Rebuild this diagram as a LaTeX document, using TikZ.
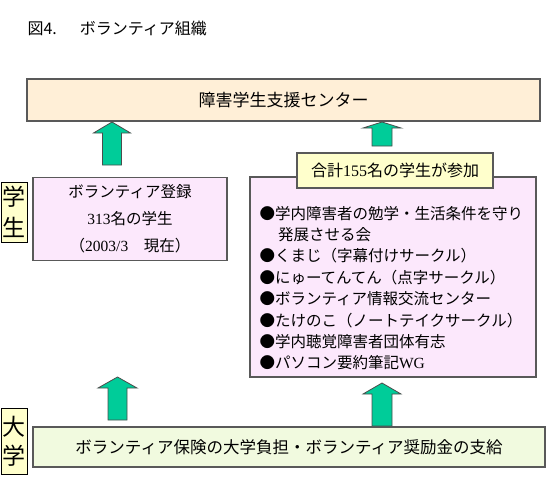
\documentclass[tikz,border=0pt]{standalone}
\usepackage{fontspec}
\setmainfont{Noto Sans CJK JP}
\newfontfamily\tnr{Liberation Serif}
\usepackage{xcolor}
\usepackage{tikz}
\definecolor{centrefill}{HTML}{FFEFD7}
\definecolor{groupfill}{HTML}{FCE8FC}
\definecolor{tagfill}{HTML}{FFFFCC}
\definecolor{unifill}{HTML}{F1FADF}
\definecolor{arrowgreen}{HTML}{00CC99}
\tikzstyle{box} = [draw=black!65, line width=1.2pt, rectangle, inner sep=0pt]
\tikzstyle{centre} = [box, fill=centrefill, 
    minimum width=513pt, minimum height=42pt, 
    font=\fontsize{17}{20}\selectfont]
\tikzstyle{group} = [box, fill=groupfill]
\tikzstyle{tag} = [box, fill=tagfill, font=\fontsize{16}{20}\selectfont]
\tikzstyle{side} = [draw=black, line width=1pt, fill=tagfill, 
    inner sep=0pt, minimum width=26pt, align=center]
\tikzstyle{blockarrow} = [draw=black!70, line width=0.8pt, fill=arrowgreen]

\begin{document}
\begin{tikzpicture}[x=1pt, y=-1pt]
            \useasboundingbox (0,0) rectangle (548,476);
            \node [anchor=west, font=\fontsize{16}{18}\selectfont] (title) at (24,28) 
            {図4.\hspace{23pt}ボランティア組織};
            \node [centre] (centre) at (283.5,100) 
            {障害学生支援センター};
            % students
            \node [group, minimum width=194pt, minimum height=83pt, 
                align=center, font=\fontsize{15.5}{27}\selectfont] (register) at (130,219) 
            {ボランティア登録\\{\tnr 313}名の学生\\（{\tnr 2003/3}　現在）};
            \node [group, minimum width=286pt, minimum height=200pt] (circles) at (393,277) 
            {};
            \node [anchor=west, align=left, font=\fontsize{15.5}{21.4}\selectfont] (clublist) at (256,288) 
            {●学内障害者の勉学・生活条件を守り\\
             \hspace*{1.2em}発展させる会\\
             ●くまじ（字幕付けサークル）\\
             ●にゅーてんてん（点字サークル）\\
             ●ボランティア情報交流センター\\
             ●たけのこ（ノートテイクサークル）\\
             ●学内聴覚障害者団体有志\\
             ●パソコン要約筆記{\tnr WG}};
            \node [tag, minimum width=196pt, minimum height=35pt] (total) at (395,170.5) 
            {合計{\tnr 155}名の学生が参加};
            \node [side, minimum height=60pt, font=\fontsize{23}{31}\selectfont] (students) at (14,212) 
            {学\\生};
            % university
            \node [box, fill=unifill, minimum width=512pt, minimum height=40pt, 
                font=\fontsize{16.5}{20}\selectfont] (support) at (289,447) 
            {ボランティア保険の大学負担・ボランティア奨励金の支給};
            \node [side, minimum height=66pt, font=\fontsize{23}{29}\selectfont] (university) at (14,441) 
            {大\\学};
            % block arrows
            \draw [blockarrow] (112,122) -- ++(18.5,11) -- ++(-9,0) -- ++(0,32) 
                -- ++(-19,0) -- ++(0,-32) -- ++(-9,0) -- cycle;
            \draw [blockarrow] (382,122) -- ++(19,6) -- ++(-9,0) -- ++(0,18) 
                -- ++(-20,0) -- ++(0,-18) -- ++(-9,0) -- cycle;
            \draw [blockarrow] (117.5,377) -- ++(19.5,11) -- ++(-10,0) -- ++(0,32) 
                -- ++(-19,0) -- ++(0,-32) -- ++(-10,0) -- cycle;
            \draw [blockarrow] (382,383) -- ++(19,11) -- ++(-9,0) -- ++(0,32) 
                -- ++(-20,0) -- ++(0,-32) -- ++(-9,0) -- cycle;
        \end{tikzpicture}
\end{document}
